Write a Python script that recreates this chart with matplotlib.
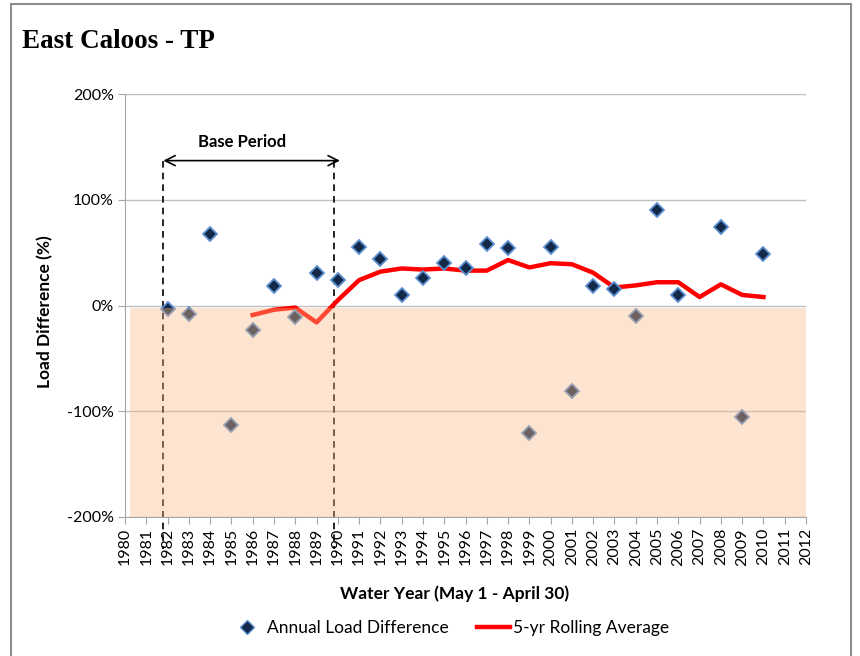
import numpy as np
import matplotlib
matplotlib.use("Agg")
import matplotlib.pyplot as plt
from matplotlib.patches import Rectangle
from matplotlib.lines import Line2D

plt.rcParams['font.family'] = ['Lato', 'DejaVu Sans']

# annual load difference (%) by water year, 2007 has no value
years = [1982, 1983, 1984, 1985, 1986, 1987, 1988, 1989, 1990, 1991,
         1992, 1993, 1994, 1995, 1996, 1997, 1998, 1999, 2000, 2001,
         2002, 2003, 2004, 2005, 2006, 2007, 2008, 2009, 2010]
annual = [-3, -8, 68, -113, -23, 18, -11, 31, 24, 55,
          44, 10, 26, 40, 35, 58, 54, -121, 55, -81,
          18, 16, -10, 90, 10, np.nan, 74, -105, 49]

# 5-yr rolling average
roll_years = list(range(1986, 2011))
rolling = [-9, -4, -2, -16, 5, 24, 32, 35, 34, 35, 33, 33, 43, 36, 40, 39,
           31, 17, 19, 22, 22, 8, 20, 10, 8]

year_ticks = list(range(1980, 2013))
y_ticks = [-200, -100, 0, 100, 200]
y_labels = ['-200%', '-100%', '0%', '100%', '200%']

fig = plt.figure(figsize=(8.6, 6.56), dpi=100)
ax = fig.add_axes([125 / 860, 1 - 517 / 656, 681 / 860, 423 / 656])

ax.plot(years, annual, linestyle='none', marker='D', markersize=7.5,
        markerfacecolor='#13294a', markeredgecolor='#5b8fd0',
        markeredgewidth=1.3, zorder=4)
ax.plot(roll_years, rolling, color='#ff0000', linewidth=3.2,
        solid_joinstyle='round', zorder=3)

# base period annotation
ax.annotate('', xy=(1981.8, 137), xytext=(1990.1, 137),
            arrowprops=dict(arrowstyle='<->', color='black', lw=1.2,
                            mutation_scale=18, shrinkA=0, shrinkB=0))
ax.text(1985.5, 155, 'Base Period', ha='center', va='center',
        fontsize=12, fontweight='bold')
for xb in (1981.8, 1989.8):
    ax.plot([xb, xb], [137, -230], color='black', linestyle=(0, (4, 3)),
            linewidth=1.2, clip_on=False, zorder=2)

# shaded "below zero" band drawn over the marks
ax.add_patch(Rectangle((1980.25, -200), 31.75, 198, facecolor='#faba86',
                       alpha=0.39, edgecolor='none', zorder=5))

ax.set_xlim(1980, 2012)
ax.set_ylim(-200, 200)
ax.set_xticks(year_ticks)
ax.set_xticklabels([str(y) for y in year_ticks], rotation=90, fontsize=11.5)
ax.set_yticks(y_ticks)
ax.set_yticklabels(y_labels, fontsize=11.5)
ax.yaxis.grid(True, color='#bfbfbf', linewidth=1)
ax.set_axisbelow(True)
for s in ('top', 'right'):
    ax.spines[s].set_visible(False)
for s in ('left', 'bottom'):
    ax.spines[s].set_color('#a6a6a6')
ax.tick_params(axis='both', direction='out', length=5, color='#a6a6a6',
               pad=3)

fig.text(22 / 860, 1 - 41 / 656, 'East Caloos - TP', family='Liberation Serif',
         fontsize=19.5, fontweight='bold', va='center', ha='left')
fig.text(455 / 860, 1 - 594 / 656, 'Water Year (May 1 - April 30)',
         fontsize=12.5, fontweight='bold', ha='center', va='center')
fig.text(45 / 860, 1 - 312 / 656, 'Load Difference (%)', rotation=90,
         fontsize=12.5, fontweight='bold', ha='center', va='center')

handles = [Line2D([], [], linestyle='none', marker='D', markersize=7,
                  markerfacecolor='#13294a', markeredgecolor='#5b8fd0'),
           Line2D([], [], color='#ff0000', linewidth=3.2)]
fig.legend(handles, ['Annual Load Difference', '5-yr Rolling Average'],
           loc='center', bbox_to_anchor=(450 / 860, 1 - 628 / 656), ncol=2,
           frameon=False, fontsize=12.5, handlelength=1.9, handletextpad=0.2,
           columnspacing=1.6)

fig.patches.append(Rectangle((11 / 860, -0.01), 840 / 860, 1 - 4 / 656 + 0.01,
                             transform=fig.transFigure, fill=False,
                             edgecolor='#8c8c8c', linewidth=1.5))

fig.savefig('out.png', dpi=100)
